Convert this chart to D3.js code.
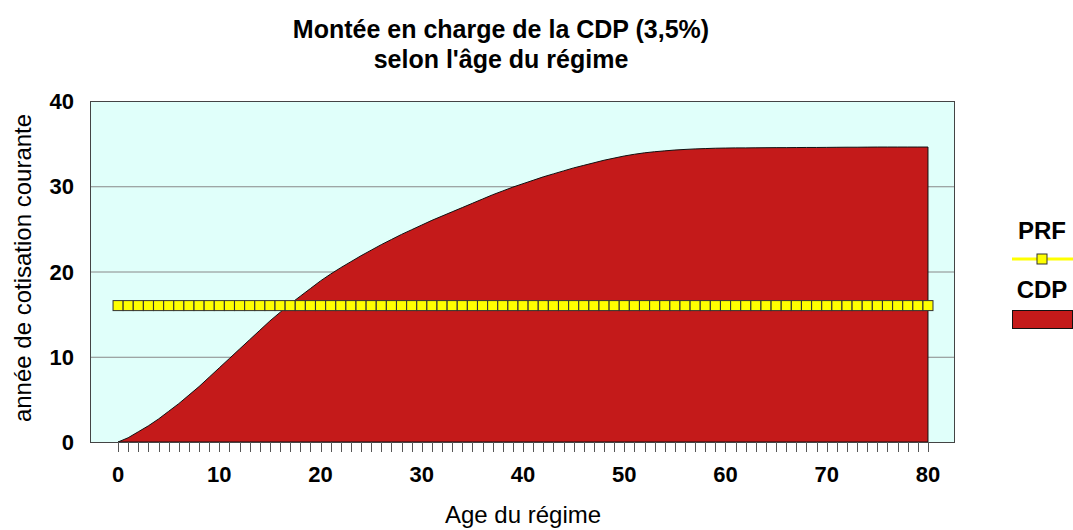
<!DOCTYPE html>
<html>
<head>
<meta charset="utf-8">
<script src="https://cdn.jsdelivr.net/npm/d3@7"></script>
<style>
  body { margin: 0; background: #fff; }
  svg { display: block; font-family: "Liberation Sans", Arial, sans-serif; }
</style>
</head>
<body>
<div id="chart"></div>
<script>
// age du régime (0..80)
const aAge = d3.range(0, 81);
// CDP : année de cotisation courante
const aCDP = [
  0, 0.5, 1.2, 1.9, 2.7, 3.6, 4.5, 5.5, 6.5, 7.6,
  8.7, 9.8, 10.9, 12.0, 13.1, 14.2, 15.2, 16.2, 17.1, 18.0,
  18.9, 19.7, 20.45, 21.15, 21.85, 22.5, 23.15, 23.75, 24.35, 24.9,
  25.45, 26.0, 26.5, 27.0, 27.5, 28.0, 28.5, 29.0, 29.45, 29.9,
  30.3, 30.7, 31.1, 31.45, 31.8, 32.15, 32.45, 32.75, 33.05, 33.3,
  33.55, 33.75, 33.92, 34.05, 34.15, 34.25, 34.32, 34.38, 34.42, 34.46,
  34.48, 34.5, 34.5, 34.51, 34.52, 34.53, 34.53, 34.54, 34.55, 34.55,
  34.56, 34.57, 34.58, 34.58, 34.59, 34.6, 34.6, 34.6, 34.6, 34.6,
  34.6
];
// PRF : constante
const aPRF = aAge.map(() => 16);
const aYTicks = [0, 10, 20, 30, 40];
const aXTicks = [0, 10, 20, 30, 40, 50, 60, 70, 80];

const iWidth = 1073, iHeight = 530;
const oPlot = { left: 90, right: 954, top: 101, bottom: 442 };

const d3Svg = d3.select("#chart").append("svg")
  .attr("width", iWidth).attr("height", iHeight);

const d3X = d3.scaleLinear().domain([-2.77, 82.57]).range([oPlot.left, oPlot.right]);
const d3Y = d3.scaleLinear().domain([0, 40]).range([oPlot.bottom, oPlot.top]);

// fond de la zone de tracé
d3Svg.append("rect")
  .attr("x", oPlot.left).attr("y", oPlot.top)
  .attr("width", oPlot.right - oPlot.left).attr("height", oPlot.bottom - oPlot.top)
  .attr("fill", "#E0FFFA");

// grille horizontale
d3Svg.append("g").selectAll("line").data(aYTicks.filter(v => v > 0 && v < 40))
  .enter().append("line")
  .attr("x1", oPlot.left).attr("x2", oPlot.right)
  .attr("y1", d => d3Y(d) + 0.5).attr("y2", d => d3Y(d) + 0.5)
  .attr("stroke", "#888").attr("stroke-width", 1);

// aire CDP
const aCdpData = aAge.map((a, i) => [a, aCDP[i]]);
const d3Area = d3.area().x(d => d3X(d[0])).y0(d3Y(0)).y1(d => d3Y(d[1]));
d3Svg.append("path")
  .datum(aCdpData)
  .attr("d", d3Area)
  .attr("fill", "#C41A1A")
  .attr("stroke", "#111").attr("stroke-width", 1);

// bordure
d3Svg.append("rect")
  .attr("x", oPlot.left + 0.5).attr("y", oPlot.top + 0.5)
  .attr("width", oPlot.right - oPlot.left).attr("height", oPlot.bottom - oPlot.top)
  .attr("fill", "none").attr("stroke", "#444").attr("stroke-width", 1);

// petites graduations x
d3Svg.append("g").selectAll("line").data(aAge)
  .enter().append("line")
  .attr("x1", d => Math.round(d3X(d)) + 0.5).attr("x2", d => Math.round(d3X(d)) + 0.5)
  .attr("y1", oPlot.bottom).attr("y2", oPlot.bottom + 10)
  .attr("stroke", "#555").attr("stroke-width", 1);

// série PRF
const aPrfData = aAge.map((a, i) => [a, aPRF[i]]);
d3Svg.append("path")
  .datum(aPrfData)
  .attr("d", d3.line().x(d => d3X(d[0])).y(d => d3Y(d[1])))
  .attr("fill", "none").attr("stroke", "#FFFF00").attr("stroke-width", 3);
d3Svg.append("g").selectAll("rect").data(aPrfData)
  .enter().append("rect")
  .attr("x", d => d3X(d[0]) - 5).attr("y", d => d3Y(d[1]) - 5)
  .attr("width", 10).attr("height", 10)
  .attr("fill", "#FFFF00").attr("stroke", "#333").attr("stroke-width", 1);

// étiquettes axe y
d3Svg.append("g").selectAll("text").data(aYTicks)
  .enter().append("text")
  .attr("x", 74).attr("y", d => d3Y(d) + 8)
  .attr("text-anchor", "end")
  .attr("font-size", "22px").attr("font-weight", "bold")
  .text(d => d);

// étiquettes axe x
d3Svg.append("g").selectAll("text").data(aXTicks)
  .enter().append("text")
  .attr("x", d => d3X(d)).attr("y", 482)
  .attr("text-anchor", "middle")
  .attr("font-size", "22px").attr("font-weight", "bold")
  .text(d => d);

// titres des axes
d3Svg.append("text")
  .attr("x", 523).attr("y", 523)
  .attr("text-anchor", "middle").attr("font-size", "24px")
  .text("Age du régime");
d3Svg.append("text")
  .attr("transform", "translate(31,268) rotate(-90)")
  .attr("text-anchor", "middle").attr("font-size", "24px")
  .text("année de cotisation courante");

// titre
d3Svg.append("text")
  .attr("x", 501).attr("y", 38)
  .attr("text-anchor", "middle").attr("font-size", "25px").attr("font-weight", "bold")
  .text("Montée en charge de la CDP (3,5%)");
d3Svg.append("text")
  .attr("x", 501).attr("y", 68)
  .attr("text-anchor", "middle").attr("font-size", "25px").attr("font-weight", "bold")
  .text("selon l'âge du régime");

// légende
const g = d3Svg.append("g");
g.append("text")
  .attr("x", 1042).attr("y", 239)
  .attr("text-anchor", "middle").attr("font-size", "24px").attr("font-weight", "bold")
  .text("PRF");
g.append("line")
  .attr("x1", 1012).attr("x2", 1073).attr("y1", 259).attr("y2", 259)
  .attr("stroke", "#FFFF00").attr("stroke-width", 3);
g.append("rect")
  .attr("x", 1037).attr("y", 254).attr("width", 10).attr("height", 10)
  .attr("fill", "#FFFF00").attr("stroke", "#333");
g.append("text")
  .attr("x", 1042).attr("y", 298)
  .attr("text-anchor", "middle").attr("font-size", "24px").attr("font-weight", "bold")
  .text("CDP");
g.append("rect")
  .attr("x", 1012.5).attr("y", 310.5).attr("width", 60).attr("height", 18)
  .attr("fill", "#C41A1A").attr("stroke", "#111");
</script>
</body>
</html>
